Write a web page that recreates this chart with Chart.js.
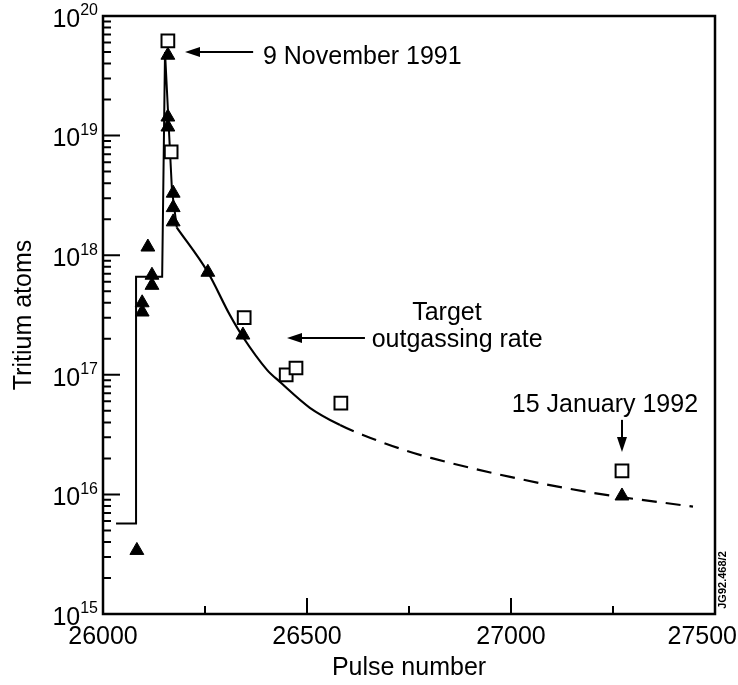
<!DOCTYPE html>
<html>
<head>
<meta charset="utf-8">
<script src="https://cdn.jsdelivr.net/npm/chart.js@4.4.1/dist/chart.umd.min.js"></script>
<style>
  html, body { margin: 0; padding: 0; background: #fff; }
  #wrap { width: 738px; height: 685px; position: relative; }
</style>
</head>
<body>
<div id="wrap"><canvas id="tritiumChart"></canvas></div>
<script>
// values (pulse number, tritium atoms)
const trianglePulses = [26083, 26096, 26096, 26110, 26120, 26120, 26159, 26159, 26159, 26172, 26172, 26172, 26257, 26343, 27272];
const triangleAtoms  = [3.4e15, 4.0e17, 3.35e17, 1.17e18, 6.8e17, 5.6e17, 4.7e19, 1.43e19, 1.18e19, 3.3e18, 2.5e18, 1.9e18, 7.2e17, 2.15e17, 9.7e15];

const squarePulses = [26159, 26167, 26346, 26449, 26473, 26583, 27272];
const squareAtoms  = [6.2e19, 7.3e18, 3.0e17, 1.0e17, 1.14e17, 5.8e16, 1.57e16];

// stepped inventory up to the spike and back down
const stepPulses = [26032, 26081, 26081, 26145, 26152, 26169, 26181];
const stepAtoms  = [5.7e15, 5.7e15, 6.6e17, 6.6e17, 5.0e19, 3.5e18, 1.7e18];

// target outgassing rate, solid then dashed
const curvePulses = [26181, 26257, 26311, 26343, 26402, 26434, 26507, 26581, 26637, 26745, 26806, 26998, 27201, 27446];
const curveAtoms  = [1.7e18, 7.2e17, 3.16e17, 2.07e17, 1.10e17, 8.7e16, 5.3e16, 3.8e16, 3.14e16, 2.31e16, 2.01e16, 1.40e16, 1.03e16, 7.9e15];
const dashedFrom = 26581;

const xTicks = [26000, 26500, 27000, 27500];
const xMinorTicks = [26250, 26750, 27250];
const yDecades = [15, 16, 17, 18, 19, 20];

const labels = [
  { text: '9 November 1991', x: 26392, y: 4.5e19, align: 'left' },
  { text: 'Target', x: 26843, y: 3.3e17, align: 'center' },
  { text: 'outgassing rate', x: 26868, y: 1.95e17, align: 'center' },
  { text: '15 January 1992', x: 27002, y: 5.6e16, align: 'left' }
];
const arrows = [
  { x1: 26368, y1: 5.0e19, x2: 26201, y2: 5.0e19 },
  { x1: 26642, y1: 2.03e17, x2: 26451, y2: 2.03e17 },
  { x1: 27272, y1: 4.2e16, x2: 27272, y2: 2.26e16 }
];

const FONT = '"Liberation Sans", Arial, sans-serif';

function toXY(xs, ys) {
  return xs.map((x, i) => ({ x: x, y: ys[i] }));
}

function arrowHead(ctx, x1, y1, x2, y2) {
  const a = Math.atan2(y2 - y1, x2 - x1);
  const len = 15, half = 5;
  ctx.beginPath();
  ctx.moveTo(x2, y2);
  ctx.lineTo(x2 - len * Math.cos(a) + half * Math.sin(a), y2 - len * Math.sin(a) - half * Math.cos(a));
  ctx.lineTo(x2 - len * Math.cos(a) - half * Math.sin(a), y2 - len * Math.sin(a) + half * Math.cos(a));
  ctx.closePath();
  ctx.fill();
}

const decorations = {
  id: 'decorations',
  afterDraw(chart) {
    const ctx = chart.ctx;
    const area = chart.chartArea;
    const xs = chart.scales.x;
    const ys = chart.scales.y;
    ctx.save();
    ctx.strokeStyle = '#000';
    ctx.fillStyle = '#000';

    // frame
    ctx.lineWidth = 2.5;
    ctx.strokeRect(area.left, area.top, area.right - area.left, area.bottom - area.top);

    // inward ticks on y
    ctx.lineWidth = 2;
    ctx.beginPath();
    yDecades.forEach(d => {
      const py = ys.getPixelForValue(Math.pow(10, d));
      ctx.moveTo(area.left, py);
      ctx.lineTo(area.left + 17, py);
      if (d < 20) {
        for (let m = 2; m <= 9; m++) {
          const p = ys.getPixelForValue(m * Math.pow(10, d));
          ctx.moveTo(area.left, p);
          ctx.lineTo(area.left + 8, p);
        }
      }
    });
    // inward ticks on x
    xTicks.forEach(v => {
      const px = xs.getPixelForValue(v);
      ctx.moveTo(px, area.bottom);
      ctx.lineTo(px, area.bottom - 16);
    });
    xMinorTicks.forEach(v => {
      const px = xs.getPixelForValue(v);
      ctx.moveTo(px, area.bottom);
      ctx.lineTo(px, area.bottom - 8);
    });
    ctx.stroke();

    // x tick labels, last one kept inside the canvas
    ctx.font = '25px ' + FONT;
    ctx.textBaseline = 'middle';
    ctx.textAlign = 'center';
    xTicks.forEach(v => {
      const txt = String(v);
      const w = ctx.measureText(txt).width;
      let px = xs.getPixelForValue(v);
      px = Math.min(px, chart.width - 1 - w / 2);
      ctx.fillText(txt, px, area.bottom + 23);
    });

    // y tick labels 10^n
    yDecades.forEach(d => {
      const py = ys.getPixelForValue(Math.pow(10, d));
      const exp = String(d);
      ctx.font = '16px ' + FONT;
      const ew = ctx.measureText(exp).width;
      ctx.textAlign = 'right';
      ctx.fillText(exp, area.left - 5, py - 5);
      ctx.font = '25px ' + FONT;
      ctx.fillText('10', area.left - 5 - ew, py + 4);
    });

    // annotations
    ctx.font = '25px ' + FONT;
    ctx.textBaseline = 'middle';
    labels.forEach(l => {
      ctx.textAlign = l.align;
      ctx.fillText(l.text, xs.getPixelForValue(l.x), ys.getPixelForValue(l.y));
    });
    ctx.lineWidth = 2;
    arrows.forEach(a => {
      const x1 = xs.getPixelForValue(a.x1), y1 = ys.getPixelForValue(a.y1);
      const x2 = xs.getPixelForValue(a.x2), y2 = ys.getPixelForValue(a.y2);
      ctx.beginPath();
      ctx.moveTo(x1, y1);
      ctx.lineTo(x2 - 8 * Math.sign(x2 - x1), y2 - 8 * Math.sign(y2 - y1));
      ctx.stroke();
      arrowHead(ctx, x1, y1, x2, y2);
    });

    // figure reference
    ctx.save();
    ctx.translate(area.right + 8, area.bottom - 34);
    ctx.rotate(-Math.PI / 2);
    ctx.font = 'bold 11px ' + FONT;
    ctx.textAlign = 'center';
    ctx.fillText('JG92.468/2', 0, 0);
    ctx.restore();

    ctx.restore();
  }
};

new Chart(document.getElementById('tritiumChart'), {
  type: 'scatter',
  data: {
    datasets: [
      {
        label: 'Triangles',
        data: toXY(trianglePulses, triangleAtoms),
        pointStyle: 'triangle',
        pointRadius: 8,
        backgroundColor: '#000',
        borderColor: '#000',
        borderWidth: 1
      },
      {
        label: 'Squares',
        data: toXY(squarePulses, squareAtoms),
        pointStyle: 'rect',
        pointRadius: 9,
        backgroundColor: '#fff',
        borderColor: '#000',
        borderWidth: 2
      },
      {
        label: 'Inventory',
        data: toXY(stepPulses, stepAtoms),
        showLine: true,
        pointRadius: 0,
        borderColor: '#000',
        borderWidth: 2,
        tension: 0
      },
      {
        label: 'Target outgassing rate',
        data: toXY(curvePulses, curveAtoms),
        showLine: true,
        pointRadius: 0,
        borderColor: '#000',
        borderWidth: 2.2,
        cubicInterpolationMode: 'monotone',
        segment: {
          borderDash: c => c.p0.parsed.x >= dashedFrom ? [15, 9] : undefined
        }
      }
    ]
  },
  options: {
    responsive: true,
    maintainAspectRatio: false,
    animation: false,
    layout: { autoPadding: false, padding: { top: 16, right: 23, left: 0, bottom: 0 } },
    plugins: {
      legend: { display: false },
      tooltip: { enabled: false }
    },
    scales: {
      x: {
        type: 'linear',
        min: 26000,
        max: 27500,
        afterBuildTicks: scale => { scale.ticks = xTicks.map(v => ({ value: v })); },
        afterFit: scale => {
          scale.height = 71;
          scale.paddingLeft = 0;
          scale.paddingRight = 0;
        },
        grid: { display: false },
        border: { display: false },
        ticks: { display: false },
        title: {
          display: true,
          text: 'Pulse number',
          color: '#000',
          font: { family: FONT, size: 25 },
          padding: { top: 0, bottom: 2 }
        }
      },
      y: {
        type: 'logarithmic',
        min: 1e15,
        max: 1e20,
        afterFit: scale => {
          scale.width = 103;
          scale.paddingTop = 0;
          scale.paddingBottom = 0;
        },
        grid: { display: false },
        border: { display: false },
        ticks: { display: false },
        title: {
          display: true,
          text: 'Tritium atoms',
          color: '#000',
          font: { family: FONT, size: 25 },
          padding: { top: 9, bottom: 0 }
        }
      }
    }
  },
  plugins: [decorations]
});
</script>
</body>
</html>
